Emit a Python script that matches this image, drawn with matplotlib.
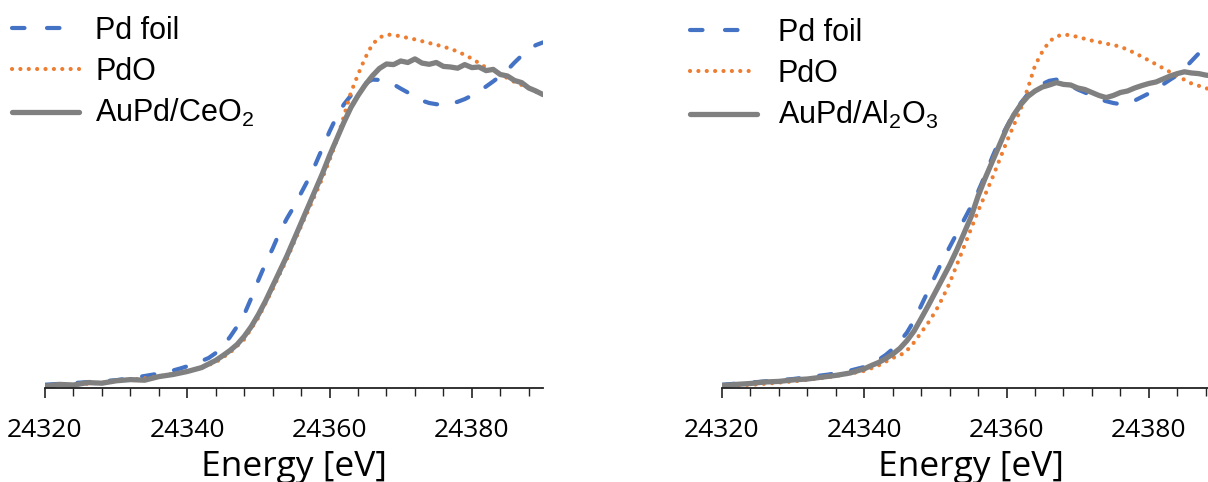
import matplotlib
matplotlib.use("Agg")
import matplotlib.pyplot as plt
from matplotlib.ticker import MultipleLocator
from matplotlib.lines import Line2D

plt.rcParams['mathtext.fontset'] = 'custom'
plt.rcParams['mathtext.rm'] = 'Liberation Sans'

# ---------------- data (normalized absorption vs energy, eV) ----------------
# Left panel: AuPd/CeO2
L_foil_E = [24320, 24325, 24330, 24334, 24337, 24339, 24341, 24343, 24344.5, 24346, 24347, 24348,
            24349, 24350, 24351, 24352, 24353, 24354, 24355, 24356, 24357, 24358, 24359, 24360,
            24361, 24362, 24363, 24364, 24365, 24366, 24367, 24368, 24369, 24370, 24371, 24372,
            24373, 24374, 24375, 24376, 24377, 24378, 24379, 24380, 24381, 24382, 24383, 24384,
            24385, 24386, 24387, 24388, 24389, 24390]
L_foil_y = [0.011, 0.018, 0.026, 0.040, 0.052, 0.065, 0.080, 0.100, 0.125, 0.170, 0.205, 0.245,
            0.300, 0.360, 0.415, 0.465, 0.520, 0.565, 0.605, 0.650, 0.695, 0.745, 0.800, 0.855,
            0.905, 0.945, 0.975, 0.995, 1.015, 1.028, 1.027, 1.022, 1.012, 0.998, 0.985, 0.970,
            0.958, 0.950, 0.946, 0.944, 0.947, 0.954, 0.963, 0.975, 0.990, 1.005, 1.022, 1.040,
            1.060, 1.085, 1.108, 1.128, 1.143, 1.152]

L_pdo_E = [24320, 24325, 24330, 24335, 24340, 24342, 24344, 24346, 24348, 24350, 24352, 24354,
           24356, 24358, 24359, 24360, 24361, 24362, 24363, 24364, 24365, 24366, 24367, 24368,
           24369, 24370, 24372, 24374, 24376, 24378, 24380, 24382, 24384, 24386, 24388, 24390]
L_pdo_y = [0.006, 0.012, 0.022, 0.035, 0.055, 0.068, 0.086, 0.118, 0.162, 0.235, 0.330, 0.430,
           0.540, 0.645, 0.700, 0.760, 0.825, 0.905, 0.985, 1.045, 1.100, 1.145, 1.168, 1.178,
           1.177, 1.172, 1.162, 1.150, 1.138, 1.122, 1.098, 1.068, 1.046, 1.020, 1.000, 0.975]

L_cat_E = [24320, 24322, 24324, 24326, 24328, 24330, 24332, 24334, 24336, 24338, 24340, 24342,
           24343, 24344, 24345, 24346, 24347, 24348, 24349, 24350, 24351, 24352, 24353, 24354,
           24355, 24356, 24357, 24358, 24359, 24360, 24361, 24362, 24363, 24364, 24365, 24366,
           24367, 24368, 24369, 24370, 24371, 24372, 24373, 24374, 24375, 24376, 24377, 24378,
           24379, 24380, 24381, 24382, 24383, 24384, 24385, 24386, 24387, 24388, 24389, 24390]
L_cat_y = [0.006, 0.012, 0.010, 0.018, 0.016, 0.024, 0.028, 0.026, 0.038, 0.045, 0.055, 0.068,
           0.080, 0.092, 0.108, 0.125, 0.145, 0.172, 0.205, 0.245, 0.290, 0.340, 0.390, 0.440,
           0.495, 0.550, 0.605, 0.660, 0.715, 0.775, 0.830, 0.885, 0.935, 0.975, 1.010, 1.040,
           1.065, 1.080, 1.078, 1.090, 1.085, 1.097, 1.083, 1.079, 1.085, 1.072, 1.070, 1.066,
           1.078, 1.068, 1.070, 1.058, 1.062, 1.045, 1.040, 1.025, 1.018, 1.000, 0.990, 0.978]

# Right panel: AuPd/Al2O3
R_foil_E = [24320, 24325, 24330, 24335, 24338, 24340, 24341.7, 24343, 24344, 24345, 24346, 24347,
            24348, 24349, 24350, 24351, 24352, 24353, 24354, 24355, 24356, 24357, 24358, 24359,
            24360, 24361, 24362, 24363, 24364, 24365, 24366, 24367, 24368, 24369, 24370, 24371,
            24372, 24373, 24374, 24375, 24376, 24377, 24378, 24379, 24380, 24381, 24382, 24383,
            24384, 24385, 24386, 24387, 24388, 24389, 24390]
R_foil_y = [0.011, 0.020, 0.030, 0.045, 0.058, 0.070, 0.089, 0.110, 0.130, 0.155, 0.185, 0.225,
            0.275, 0.325, 0.375, 0.425, 0.470, 0.515, 0.560, 0.605, 0.655, 0.710, 0.770, 0.825,
            0.870, 0.915, 0.950, 0.980, 1.000, 1.013, 1.024, 1.028, 1.020, 1.008, 0.995, 0.985,
            0.975, 0.963, 0.956, 0.950, 0.946, 0.950, 0.958, 0.970, 0.982, 0.998, 1.012, 1.028,
            1.043, 1.065, 1.090, 1.115, 1.138, 1.158, 1.175]

R_pdo_E = [24320, 24325, 24330, 24335, 24338, 24340, 24342, 24344, 24345.7, 24347, 24348, 24349,
           24350, 24351, 24352, 24353, 24354, 24355, 24356, 24357, 24358, 24359, 24360, 24361,
           24362, 24363, 24364, 24365, 24366, 24367, 24368, 24369, 24370, 24372, 24374, 24376,
           24378, 24380, 24382, 24384, 24386, 24388, 24390]
R_pdo_y = [0.006, 0.012, 0.022, 0.036, 0.048, 0.057, 0.075, 0.100, 0.117, 0.152, 0.185, 0.218,
           0.255, 0.300, 0.350, 0.410, 0.470, 0.530, 0.590, 0.645, 0.700, 0.760, 0.820, 0.875,
           0.930, 1.000, 1.075, 1.120, 1.155, 1.172, 1.178, 1.176, 1.170, 1.158, 1.148, 1.138,
           1.117, 1.092, 1.066, 1.040, 1.015, 1.000, 0.980]

R_cat_E = [24320, 24322, 24324, 24326, 24328, 24330, 24332, 24334, 24336, 24338, 24340, 24341,
           24342, 24343, 24344, 24345, 24346, 24347, 24348, 24349, 24350, 24351, 24352, 24353,
           24354, 24355, 24356, 24357, 24358, 24359, 24360, 24361, 24362, 24363, 24364, 24365,
           24366, 24367, 24368, 24369, 24370, 24371, 24372, 24373, 24374, 24375, 24376, 24377,
           24378, 24379, 24380, 24381, 24382, 24383, 24384, 24385, 24386, 24387, 24388, 24389, 24390]
R_cat_y = [0.008, 0.012, 0.015, 0.020, 0.022, 0.027, 0.030, 0.036, 0.042, 0.050, 0.064, 0.075,
           0.085, 0.098, 0.113, 0.132, 0.158, 0.190, 0.232, 0.275, 0.320, 0.365, 0.410, 0.460,
           0.515, 0.570, 0.640, 0.700, 0.755, 0.810, 0.865, 0.910, 0.945, 0.972, 0.990, 1.003,
           1.010, 1.018, 1.012, 1.010, 1.000, 0.995, 0.985, 0.975, 0.968, 0.975, 0.985, 0.990,
           1.000, 1.008, 1.015, 1.020, 1.030, 1.040, 1.048, 1.054, 1.050, 1.048, 1.043, 1.040, 1.035]

labels_left = ['Pd foil', 'PdO', r'AuPd/CeO$\mathregular{_2}$']
labels_right = ['Pd foil', 'PdO', r'AuPd/Al$\mathregular{_2}$O$\mathregular{_3}$']
xlabel = 'Energy [eV]'
xlim = (24320, 24390)
xticks = [24320, 24340, 24360, 24380]

# ---------------- styling ----------------
BLUE = '#4472C4'
ORANGE = '#ED7D31'
GRAY = '#808080'

W, H = 1208, 482
fig = plt.figure(figsize=(W / 100, H / 100), dpi=100)

ax_y0 = (H - 388) / H
ax_h = 375 / H
ax_w = 498 / W
axL = fig.add_axes([45 / W, ax_y0, ax_w, ax_h])
axR = fig.add_axes([722 / W, ax_y0, ax_w, ax_h])


def draw(ax, fE, fy, pE, py, cE, cy, labels, leg_x, leg_y, textpad):
    ax.plot(fE, fy, color=BLUE, lw=3.0, linestyle=(0, (3.0, 4.8)),
            dash_capstyle='round')
    ax.plot(pE, py, color=ORANGE, lw=3.0, linestyle=(0, (0.01, 2.0)),
            dash_capstyle='round')
    ax.plot(cE, cy, color=GRAY, lw=3.8, solid_capstyle='round',
            solid_joinstyle='round')
    ax.set_xlim(*xlim)
    ax.set_ylim(0, 1.25)
    for s in ['left', 'right', 'top']:
        ax.spines[s].set_visible(False)
    ax.spines['bottom'].set_linewidth(1.3)
    ax.spines['bottom'].set_color('#222222')
    ax.set_yticks([])
    ax.xaxis.set_minor_locator(MultipleLocator(4))
    ax.set_xticks(xticks)
    ax.set_xticklabels([str(t) for t in xticks])
    ax.tick_params(axis='x', which='major', direction='out', length=7.5, width=1.2,
                   color='#222222', pad=14, labelsize=19)
    ax.tick_params(axis='x', which='minor', direction='out', length=6, width=1.0,
                   color='#222222')
    for lab in ax.get_xticklabels():
        lab.set_fontfamily('Open Sans')
    ax.set_xlabel(xlabel, fontsize=25.5, fontfamily='Open Sans', labelpad=5)
    # legend proxies (dash pattern tuned so the handle shows two whole dashes)
    h1 = Line2D([], [], color=BLUE, lw=3.0, linestyle=(0, (3.0, 5.4)),
                dash_capstyle='round')
    h2 = Line2D([], [], color=ORANGE, lw=3.0, linestyle=(0, (0.01, 2.0)),
                dash_capstyle='round')
    h3 = Line2D([], [], color=GRAY, lw=3.8, solid_capstyle='round')
    fig.legend(handles=[h1, h2, h3], labels=labels, loc='upper left',
               bbox_to_anchor=(leg_x / W, 1 - leg_y / H), frameon=False,
               prop={'family': 'Liberation Sans', 'size': 22},
               handlelength=2.18, handletextpad=textpad, labelspacing=0.35,
               borderpad=0, borderaxespad=0)


draw(axL, L_foil_E, L_foil_y, L_pdo_E, L_pdo_y, L_cat_E, L_cat_y, labels_left, 12, 16, 0.55)
draw(axR, R_foil_E, R_foil_y, R_pdo_E, R_pdo_y, R_cat_E, R_cat_y, labels_right, 690, 18, 0.69)

fig.savefig('out.png', dpi=100)
